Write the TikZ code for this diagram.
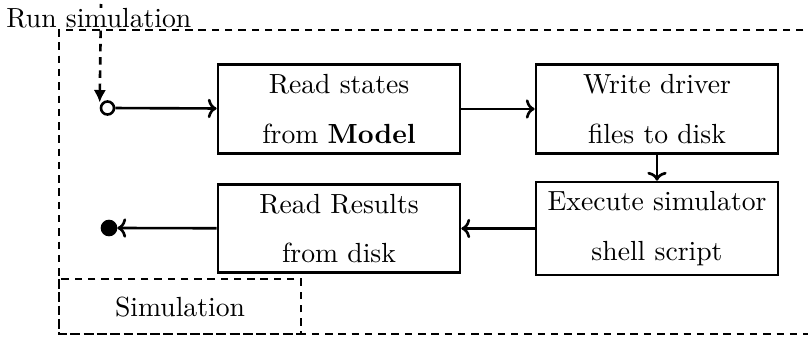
\documentclass[tikz,border=0pt]{standalone}
\usetikzlibrary{arrows.meta}
\begin{document}
\begin{tikzpicture}[x=0.3615pt,y=-0.3615pt,
  every path/.style={line width=0.95pt},
  stepbox/.style={draw,line width=0.95pt,inner sep=0pt,align=center,
    minimum width=87.5pt,minimum height=32pt},
  framedash/.style={dash pattern=on 2.7pt off 2.1pt},
  flow/.style={-{To[length=3.2pt,width=7pt]}},
  startdot/.style={circle,draw,line width=0.95pt,fill=white,inner sep=0pt,minimum size=13*0.3615pt},
  enddot/.style={circle,draw,fill=black,inner sep=0pt,minimum size=14*0.3615pt}]
\useasboundingbox (0,0) rectangle (808,339);

% outer simulation frame, open to the right
\draw[framedash] (830,30) -- (59,30) -- (59,334) -- (830,334);
% tab holding the frame title
\draw[framedash] (59,279) rectangle (301,334);
\node (simlabel) at (180,307) {Simulation};

% process steps
\node[stepbox] (readstates) at (339,109) {Read states\\[6pt]from \textbf{Model}};
\node[stepbox] (writedrv) at (657,109) {Write driver\\[6pt]files to disk};
\node[stepbox,minimum height=33.6pt] (execsim) at (657,228.5) {Execute simulator\\[6pt]shell script};
\node[stepbox] (readres) at (339,228.5) {Read Results\\[6pt]from disk};

% entry and exit states
\node[startdot] (init) at (107.5,108) {};
\node[enddot] (final) at (109,228) {};

% trigger
\coordinate (trigger) at (101,4);
\draw[framedash,-{Latex[length=4.5pt,width=4.5pt]}] (trigger) -- ([yshift=2pt]init.west);
\node[fill=white,inner sep=0pt,anchor=base west] (runlabel) at (5,27) {Run simulation};

% control flow
\draw[flow] (init) -- (readstates);
\draw[flow] (readstates) -- (writedrv);
\draw[flow] (writedrv) -- (execsim);
\draw[flow] (execsim) -- (readres);
\draw[flow] (readres) -- (final);
\end{tikzpicture}
\end{document}
